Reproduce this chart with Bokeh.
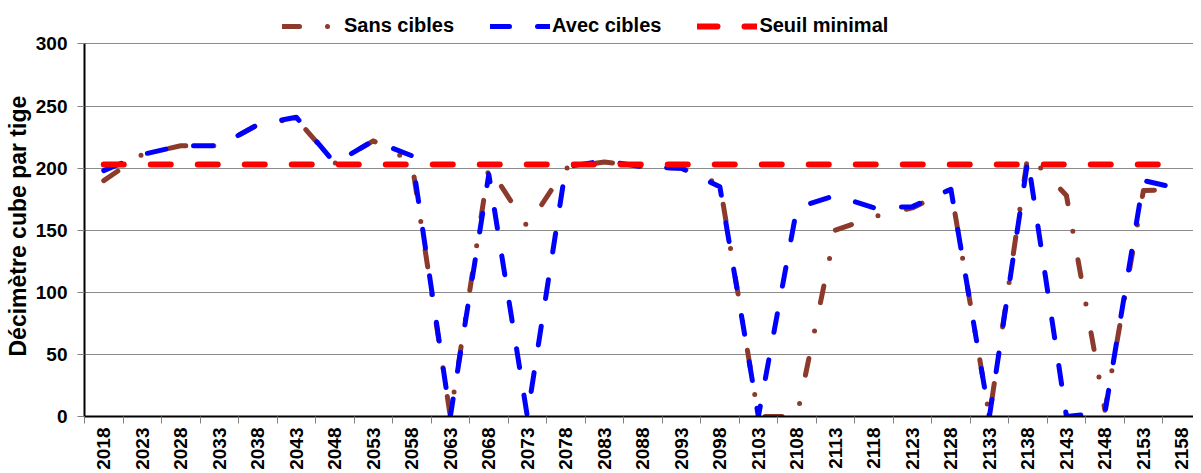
import math
from bokeh.plotting import figure
from bokeh.models import Range1d, FixedTicker, Legend, LegendItem, Title
from bokeh.embed import file_html
from bokeh.resources import INLINE

# ---- data ----
years = [2018, 2023, 2028, 2033, 2038, 2043, 2048, 2053, 2058, 2063,
         2068, 2073, 2078, 2083, 2088, 2093, 2098, 2103, 2108, 2113,
         2118, 2123, 2128, 2133, 2138, 2143, 2148, 2153, 2158]
sans_cibles = [190, 211, 218, 218, 235, 240, 204, 222, 205, 0,
               201, 153, 200, 205, 201, 200, 187, 0, 0, 150,
               161, 168, 183, 0, 211, 178, 5, 182, 183]
avec_cibles = [198, 211, 218, 218, 235, 241, 204, 222, 210, 0,
               195, 0, 201, 206, 201, 200, 185, 0, 168, 178,
               168, 169, 183, 0, 207, 0, 3, 190, 183]
seuil_minimal = [203, 203, 203, 203, 203, 203, 203, 203, 203, 203,
                 203, 203, 203, 203, 203, 203, 203, 203, 203, 203,
                 203, 203, 203, 203, 203, 203, 203, 203, 203]
y_ticks = [0, 50, 100, 150, 200, 250, 300]
series_names = ["Sans cibles", "Avec cibles", "Seuil minimal"]
y_title = "Décimètre cube par tige"

FONT = "Liberation Sans"

# frame extends above the 300 line to host the legend; the y axis is bounded at 300
p = figure(width=1193, height=473, output_backend="svg", toolbar_location=None,
           x_range=Range1d(2015.5, 2159.5), y_range=Range1d(0, 335.0),
           min_border_left=81, min_border_right=0, min_border_top=0,
           min_border_bottom=57)
p.outline_line_color = None
p.background_fill_color = "white"
p.border_fill_color = "white"

r1 = p.line(years, sans_cibles, line_color="#8B3A2C", line_width=5,
            line_dash="17 28 0 29", line_cap="round", line_join="round")
r2 = p.line(years, avec_cibles, line_color="#0000FF", line_width=5,
            line_dash="19 28", line_cap="round", line_join="round")
r3 = p.line(years, seuil_minimal, line_color="#FF0000", line_width=6,
            line_dash="20 27", line_cap="round", line_join="round")

# grid
p.xgrid.visible = False
p.ygrid.grid_line_color = "#8c8c8c"
p.ygrid.grid_line_width = 1

# y axis
p.yaxis.ticker = FixedTicker(ticks=y_ticks)
p.yaxis.bounds = (0, 300)
p.yaxis.major_label_text_font = FONT
p.yaxis.major_label_text_font_size = "19px"
p.yaxis.major_label_text_font_style = "bold"
p.yaxis.major_label_text_color = "black"
p.yaxis.major_label_standoff = 10
p.yaxis.major_tick_out = 7
p.yaxis.major_tick_in = 0
p.yaxis.major_tick_line_color = "#808080"
p.yaxis.minor_tick_line_color = None
p.yaxis.axis_line_color = "black"
p.yaxis.axis_line_width = 2

# y axis title, placed along the 0-300 span
ytitle = Title(text=y_title, align="left", offset=60, standoff=4,
               text_font=FONT, text_font_size="23px", text_font_style="bold",
               text_color="black")
p.add_layout(ytitle, "left")

# x axis: labels at categories, tick marks between categories
boundaries = [y - 2.5 for y in years] + [years[-1] + 2.5]
p.xaxis.ticker = FixedTicker(ticks=years, minor_ticks=boundaries)
p.xaxis.major_label_orientation = math.pi / 2
p.xaxis.major_label_text_font = FONT
p.xaxis.major_label_text_font_size = "19px"
p.xaxis.major_label_text_font_style = "bold"
p.xaxis.major_label_text_color = "black"
p.xaxis.major_label_standoff = 4
p.xaxis.major_tick_out = 7
p.xaxis.major_tick_in = 0
p.xaxis.major_tick_line_color = None
p.xaxis.minor_tick_out = 7
p.xaxis.minor_tick_in = 0
p.xaxis.minor_tick_line_color = "#808080"
p.xaxis.axis_line_color = "black"
p.xaxis.axis_line_width = 2

legend = Legend(
    items=[LegendItem(label=series_names[0], renderers=[r1]),
           LegendItem(label=series_names[1], renderers=[r2]),
           LegendItem(label=series_names[2], renderers=[r3])],
    orientation="horizontal", location=(198, 379),
    glyph_width=60, glyph_height=20, label_standoff=2, spacing=36,
    padding=0, margin=0, border_line_color=None, background_fill_alpha=0,
    label_text_font=FONT, label_text_font_style="bold",
    label_text_font_size="20px", label_text_color="black")
p.add_layout(legend)

open("out.html", "w").write(file_html(p, INLINE))
